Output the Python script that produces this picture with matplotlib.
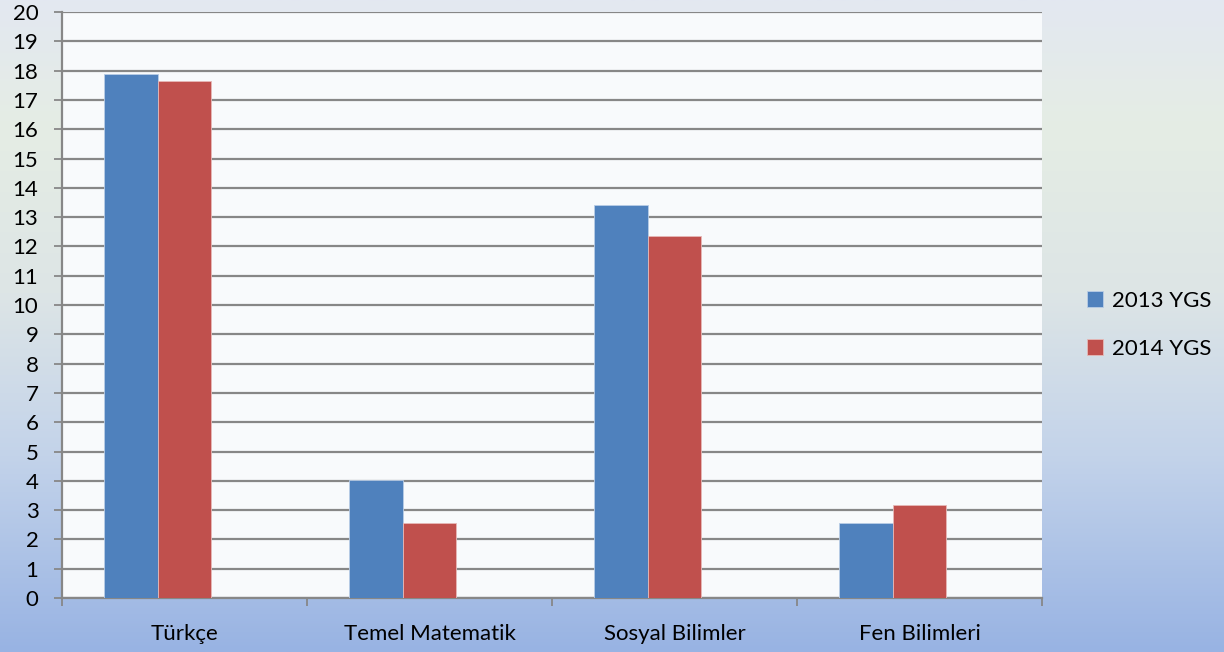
import matplotlib.pyplot as plt
import numpy as np
from matplotlib.colors import LinearSegmentedColormap

categories = ["Türkçe", "Temel Matematik", "Sosyal Bilimler", "Fen Bilimleri"]
ygs_2013 = [17.88, 4.04, 13.40, 2.56]
ygs_2014 = [17.64, 2.56, 12.35, 3.17]
series_names = ["2013 YGS", "2014 YGS"]

plt.rcParams['font.family'] = ['Lato', 'DejaVu Sans']

fig = plt.figure(figsize=(12.24, 6.52), dpi=100)

# gradient background
bg = fig.add_axes([0, 0, 1, 1], zorder=-10)
cmap = LinearSegmentedColormap.from_list(
    "bg", [(0.0, "#e3e8f1"), (0.2, "#e5ede4"), (0.45, "#dde5e6"),
           (0.7, "#c3d3ea"), (1.0, "#98b3e3")])
grad = np.linspace(0, 1, 256).reshape(-1, 1)
bg.imshow(grad, aspect="auto", cmap=cmap, extent=[0, 1, 0, 1], origin="upper")
bg.axis("off")

ax = fig.add_axes([0.0507, 0.0828, 0.8006, 0.8988])
ax.set_facecolor("#f8fafc")

x = np.arange(len(categories))
w = 0.22
# bars sit left of centre (room for a third, empty slot as in the original)
ax.bar(x - w, ygs_2013, w, color="#4f81bd", edgecolor="#b9cde6", linewidth=0.6,
       label=series_names[0], zorder=3)
ax.bar(x, ygs_2014, w, color="#c0504d", edgecolor="#e6b9b8", linewidth=0.6,
       label=series_names[1], zorder=3)

ax.set_xlim(-0.5, len(categories) - 0.5)
ax.set_ylim(0, 20)
ax.set_yticks(range(0, 21))
ax.yaxis.grid(True, color="#878787", linewidth=1.6, zorder=1)
ax.set_xticks(x)
ax.set_xticklabels(categories)
ax.set_xticks(np.arange(-0.5, len(categories)), minor=True)
ax.tick_params(axis="x", which="major", length=0, labelsize=16, pad=19)
ax.tick_params(axis="x", which="minor", length=6, width=1.3, color="#878787", direction="out")
ax.tick_params(axis="y", length=6, width=1.3, color="#878787", labelsize=16, pad=11)

for side in ["top", "right"]:
    ax.spines[side].set_visible(False)
for side in ["left", "bottom"]:
    ax.spines[side].set_color("#878787")
    ax.spines[side].set_linewidth(1.6)

leg = ax.legend(loc="center left", bbox_to_anchor=(1.026, 0.466), frameon=False,
                fontsize=16, handlelength=0.7, handleheight=0.7,
                handletextpad=0.4, labelspacing=1.25)

fig.savefig("out.png", dpi=100)
